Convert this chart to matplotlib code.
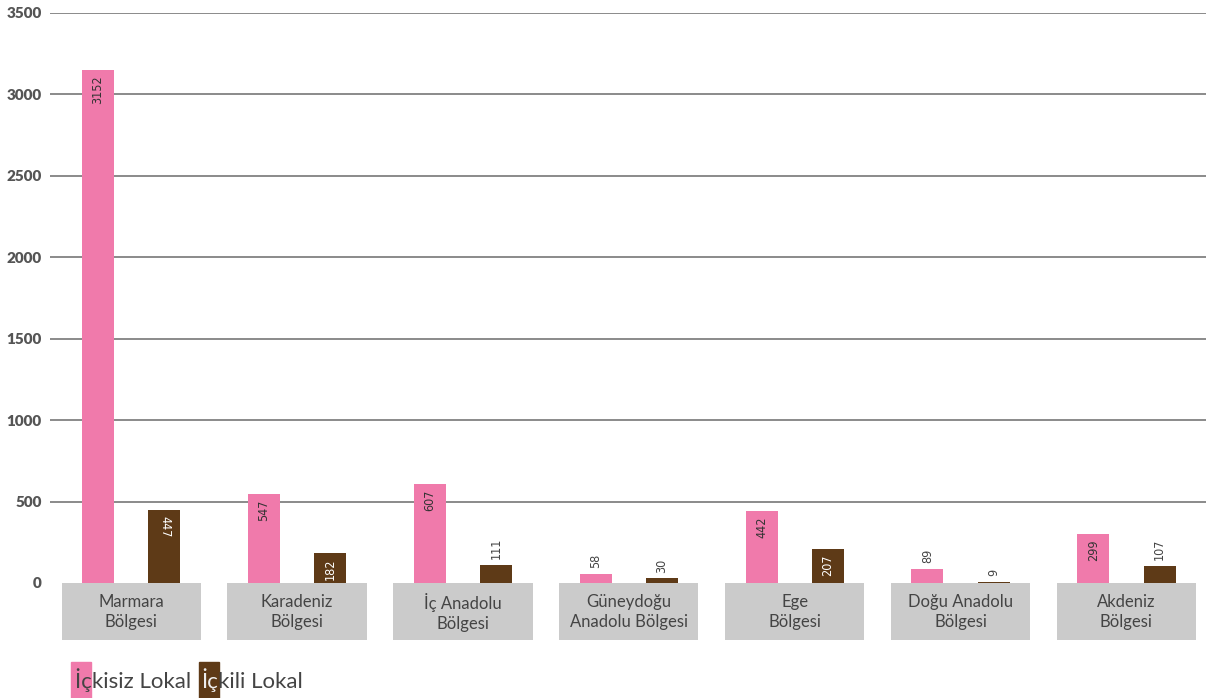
import matplotlib
matplotlib.use("Agg")
import matplotlib.pyplot as plt
from matplotlib.patches import Rectangle

regions = ["Marmara\nBölgesi", "Karadeniz\nBölgesi", "İç Anadolu\nBölgesi",
           "Güneydoğu\nAnadolu Bölgesi", "Ege\nBölgesi", "Doğu Anadolu\nBölgesi",
           "Akdeniz\nBölgesi"]
ickisiz = [3152, 547, 607, 58, 442, 89, 299]
ickili = [447, 182, 111, 30, 207, 9, 107]
yticks = [0, 500, 1000, 1500, 2000, 2500, 3000, 3500]

PINK = "#f07aab"
BROWN = "#5e3a17"
BOX = "#cbcbcb"
TEXT = "#444444"

fig = plt.figure(figsize=(12.06, 6.98), dpi=100)
ax = fig.add_axes([50 / 1206, 1 - 640 / 698, 1 - 50 / 1206, (640 - 13) / 698])

ax.set_xlim(-0.49, 6.48)
ax.set_ylim(-350, 3500)

for y in yticks[1:]:
    ax.axhline(y, color="#777777", lw=1.2, zorder=0)

x = list(range(len(regions)))
w = 0.193
off = 0.2

# gray label boxes under each group
for i, name in enumerate(regions):
    ax.add_patch(Rectangle((i - 0.42, -350), 0.84, 350, color=BOX, lw=0, zorder=1))
    ax.text(i, -180, name, ha="center", va="center", fontsize=12,
            family="Lato", color=TEXT, linespacing=1.3, zorder=3)

ax.bar([i - off for i in x], ickisiz, width=w, color=PINK, zorder=2)
ax.bar([i + off for i in x], ickili, width=w, color=BROWN, zorder=2)


def put_label(xpos, val, inside_color, rot=90):
    lab = str(val)
    if val >= 150:
        ax.annotate(lab, (xpos, val), xytext=(0, -4), textcoords="offset points",
                    ha="center", va="top", rotation=rot, fontsize=9,
                    family="DejaVu Sans", fontstretch="condensed",
                    color=inside_color, zorder=4)
    else:
        ax.annotate(lab, (xpos, val), xytext=(0, 4), textcoords="offset points",
                    ha="center", va="bottom", rotation=rot, fontsize=9,
                    family="DejaVu Sans", fontstretch="condensed",
                    color=TEXT, zorder=4)


for i in x:
    put_label(i - off, ickisiz[i], "#333333")
    put_label(i + off, ickili[i], "white", rot=-90 if i == 0 else 90)

ax.set_yticks(yticks)
ax.set_yticklabels([str(v) for v in yticks], family="Lato", fontweight="heavy",
                   fontsize=11, color="#555555")
ax.tick_params(axis="y", length=0, pad=6)
ax.set_xticks([])
for s in ax.spines.values():
    s.set_visible(False)

# legend: swatch sits behind the first letters of each entry
fig.patches.append(Rectangle((71 / 1206, 0), 20 / 1206, 36 / 698,
                             transform=fig.transFigure, color=PINK, zorder=0))
fig.patches.append(Rectangle((199 / 1206, 0), 20 / 1206, 36 / 698,
                             transform=fig.transFigure, color=BROWN, zorder=0))
fig.text(75 / 1206, 1 - 688 / 698, "İçkisiz Lokal", fontsize=16, family="Lato",
         color=TEXT, va="baseline")
t = fig.text(201 / 1206, 1 - 688 / 698, "İç", fontsize=16, family="Lato",
             color="#eeeeee", va="baseline")
rest = fig.text(0, 1 - 688 / 698, "kili Lokal", fontsize=16, family="Lato",
                color=TEXT, va="baseline", ha="left")

fig.canvas.draw()
bb = t.get_window_extent()
rest.set_position((bb.x1 / fig.bbox.width, 1 - 688 / 698))

fig.savefig("out.png", dpi=100)
